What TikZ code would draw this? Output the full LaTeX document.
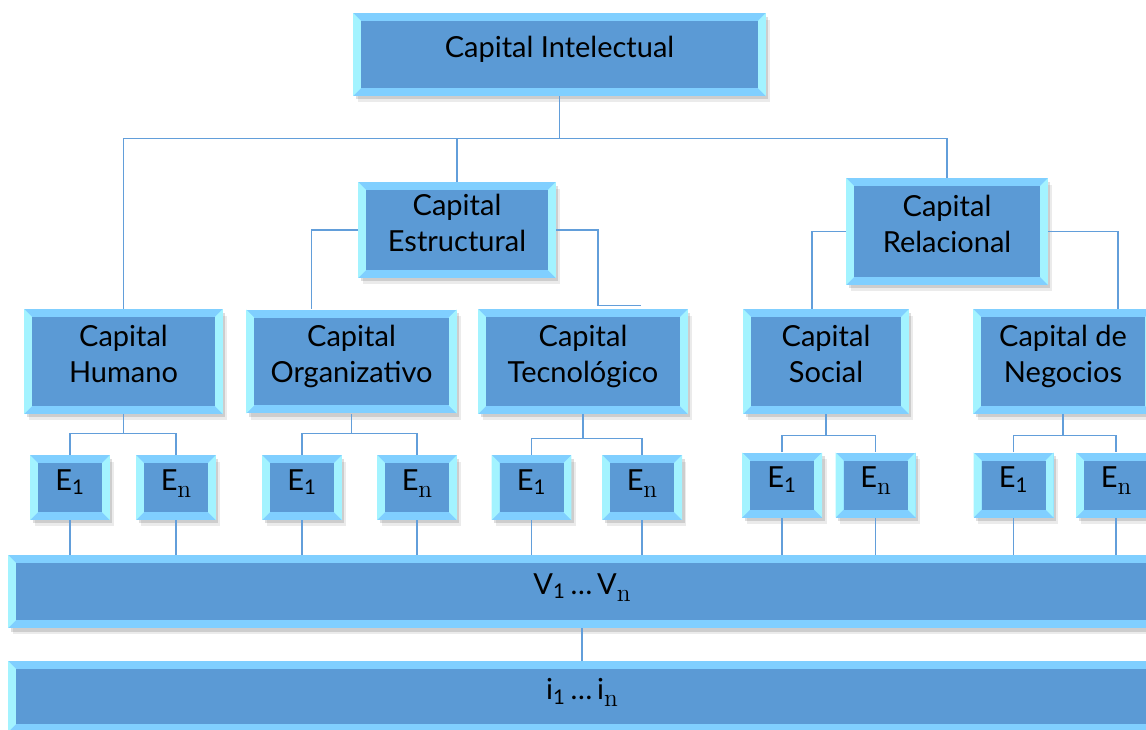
\documentclass[tikz,border=0pt]{standalone}
\usepackage{amsmath}
\usepackage[no-math]{fontspec}
\setmainfont{Lato}
\usepackage{xcolor}
\usetikzlibrary{calc,shadows}
\definecolor{boxblue}{RGB}{91,154,213}
\definecolor{bevtb}{RGB}{128,207,255}
\definecolor{bevlr}{RGB}{163,243,255}
\definecolor{linkblue}{RGB}{98,158,218}
\newcommand{\bw}{0.16cm}
\newcommand{\subn}{\raisebox{-0.45ex}{\fontsize{14}{14}\selectfont$\mathrm{n}$}}
\tikzstyle{block} = [fill=bevtb, inner sep=0pt, align=center,
	font=\fontsize{16.5}{20.5}\selectfont, text depth=0.3cm,
	drop shadow={shadow xshift=0.05cm, shadow yshift=-0.07cm, fill=black, opacity=0.13},
	drop shadow={shadow xshift=0.09cm, shadow yshift=-0.13cm, fill=black, opacity=0.08},
	path picture={
		\coordinate (nw) at (path picture bounding box.north west);
		\coordinate (se) at (path picture bounding box.south east);
		\fill[bevlr] (nw) -- ++(\bw,-\bw) -- ($(nw|-se)+(\bw,\bw)$) -- (nw|-se) -- cycle;
		\fill[bevlr] (se) -- ++(-\bw,\bw) -- ($(se|-nw)+(-\bw,-\bw)$) -- (se|-nw) -- cycle;
		\fill[boxblue] ($(nw)+(\bw,-\bw)$) rectangle ($(se)+(-\bw,\bw)$);
	}]
\tikzstyle{ebox} = [block, minimum width=1.6cm, minimum height=1.3cm]
\tikzstyle{bar} = [block, minimum width=22.96cm]
\tikzstyle{link} = [draw=linkblue, line width=0.6pt]
\newcommand{\drawbranch}[4]{\draw[link] (#1.south) -- ++(0,#4) coordinate (#1bus);
	\draw[link] (#2.north) |- (#1bus) -| (#3.north)}

\begin{document}
\begin{tikzpicture}[x=0.02cm, y=-0.02cm]
	\useasboundingbox (0,0) rectangle (1146,730);

	% top levels
	\node (ci) [block, minimum width=8.26cm, minimum height=1.66cm] at (559.5,54.5) {Capital Intelectual};
	\node (ce) [block, minimum width=3.96cm, minimum height=1.92cm] at (457,230) {Capital\\Estructural};
	\node (cr) [block, minimum width=4.04cm, minimum height=2.14cm] at (947,231.5) {Capital\\Relacional};

	\node (hum) [block, minimum width=3.98cm, minimum height=2.1cm] at (123.5,361.5) {Capital\\Humano};
	\node (org) [block, minimum width=4.22cm, minimum height=2.08cm] at (351.5,361.5) {Capital\\Organizativo};
	\node (tec) [block, minimum width=4.2cm, minimum height=2.1cm] at (583,361.5) {Capital\\Tecnológico};
	\node (soc) [block, minimum width=3.32cm, minimum height=2.1cm] at (826,361.5) {Capital\\Social};
	\node (neg) [block, minimum width=3.6cm, minimum height=2.1cm] at (1063,361.5) {Capital de\\Negocios};

	\draw[link] (ci.south) -- ++(0,42) coordinate (cibus);
	\draw[link] (hum.north) |- (cibus) -| (cr.north);
	\draw[link] (ce.north) -- (ce.north|-cibus);
	\draw[link] (ce.west) -| ($(org.north)+(-40,0)$);
	\draw[link] (ce.east) -| ($(tec.north)+(15,-3)$) -- ($(tec.north)+(58,-3)$);
	\draw[link] (cr.west) -| ($(soc.north)+(-14,0)$);
	\draw[link] (cr.east) -| ($(neg.north)+(55,0)$);

	% elements
	\node (h1) [ebox] at (70,487.5) {E\textsubscript{1}};
	\node (hn) [ebox] at (176,487.5) {E\subn};
	\node (o1) [ebox] at (302,487.5) {E\textsubscript{1}};
	\node (on) [ebox] at (417,487.5) {E\subn};
	\node (t1) [ebox] at (531.5,487.5) {E\textsubscript{1}};
	\node (tn) [ebox] at (642,487.5) {E\subn};
	\node (s1) [ebox] at (782,485) {E\textsubscript{1}};
	\node (sn) [ebox] at (875.5,485) {E\subn};
	\node (n1) [ebox] at (1013.5,485) {E\textsubscript{1}};
	\node (nn) [ebox] at (1116,485) {E\subn};

	\drawbranch{hum}{h1}{hn}{19};
	\drawbranch{org}{o1}{on}{20};
	\drawbranch{tec}{t1}{tn}{24};
	\drawbranch{soc}{s1}{sn}{21};
	\drawbranch{neg}{n1}{nn}{21};

	% indicators
	\node (vbar) [bar, minimum height=1.46cm] at (582,591.5) {V\textsubscript{1}\,\ldots\,V\subn};
	\node (ibar) [bar, minimum height=1.42cm] at (582,696.5) {i$_{\text{1}}$\,\ldots\,i\subn};

	\draw[link] (h1.south) -- (h1.south|-vbar.north)
		(hn.south) -- (hn.south|-vbar.north)
		(o1.south) -- (o1.south|-vbar.north)
		(on.south) -- (on.south|-vbar.north)
		(t1.south) -- (t1.south|-vbar.north)
		(tn.south) -- (tn.south|-vbar.north)
		(s1.south) -- (s1.south|-vbar.north)
		(sn.south) -- (sn.south|-vbar.north)
		(n1.south) -- (n1.south|-vbar.north)
		(nn.south) -- (nn.south|-vbar.north);
	\draw[link] (vbar.south) -- (ibar.north);
\end{tikzpicture}
\end{document}
